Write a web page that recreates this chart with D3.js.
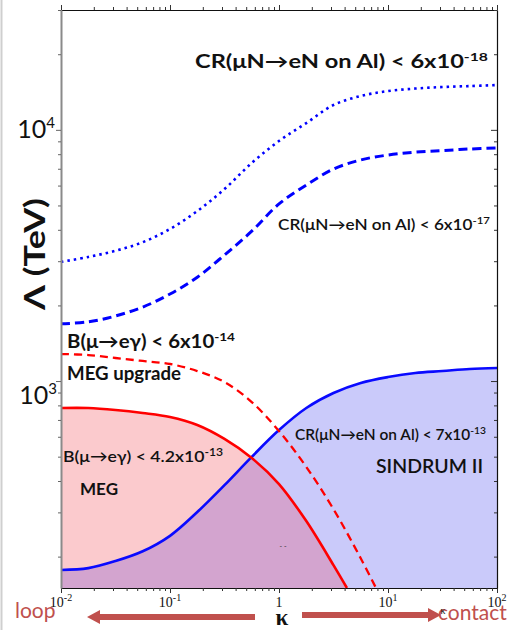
<!DOCTYPE html>
<html><head><meta charset="utf-8">
<script src="https://cdn.jsdelivr.net/npm/d3@7"></script>
<style>body{margin:0;background:#fff} svg{display:block}</style>
</head><body><svg id="c" width="512" height="630"></svg>
<script>
// ---- data ----
const kappa   = [0.01, 0.0178, 0.0316, 0.0562, 0.1, 0.178, 0.316, 0.562, 1, 1.78, 3.16, 5.62, 10, 17.8, 31.6, 56.2, 100];
const cr18    = [2980, 3120, 3300, 3570, 4030, 4750, 5810, 7380, 9030, 10640, 12560, 13640, 14270, 14600, 14810, 14940, 15080];
const cr17    = [1690, 1720, 1815, 1970, 2220, 2590, 3175, 3950, 5070, 6030, 6980, 7590, 7940, 8150, 8270, 8390, 8470];
const sindrum = [177, 180, 192, 210, 242, 301, 385, 499, 638, 781, 896, 982, 1037, 1076, 1096, 1117, 1127];
const kappaMEG   = [0.01, 0.0178, 0.0316, 0.0562, 0.1, 0.178, 0.316, 0.562, 1, 1.78, 3.16, 4.2];
const meg        = [781, 781, 767, 746, 719, 668, 588, 494, 389, 277, 185, 150];
const kappaMEGup = [0.01, 0.0178, 0.0316, 0.0562, 0.1, 0.178, 0.316, 0.562, 1, 1.78, 3.16, 5.62, 7.76];
const megUp      = [1281, 1269, 1235, 1202, 1169, 1096, 991, 825, 632, 455, 309, 197, 150];
const xTickLabels = [["10","-2"],["10","-1"],["1",""],["10","1"],["10","2"]];
const xTickVals = [0.01, 0.1, 1, 10, 100];
const yTickLabels = [["10","4"],["10","3"]];
const yTickVals = [10000, 1000];

// ---- setup ----
const svg = d3.select("#c");
const L = 61, R = 497, T = 10, B = 588;
const x = d3.scaleLog().domain([0.01, 100]).range([L, R]);
const y = d3.scaleLog().domain([150, 30000]).range([B, T]);
const RED = "#c0504d";

svg.append("line").attr("x1",1.5).attr("x2",1.5).attr("y1",0).attr("y2",630).attr("stroke","#cfcfcf").attr("stroke-width",2);

svg.append("clipPath").attr("id","plot").append("rect").attr("x",L).attr("y",T).attr("width",R-L).attr("height",B-T);
const zip = (ks, vs) => ks.map((k,i)=>[k, vs[i]]);
const curve = d3.curveCatmullRom.alpha(0.5);
const area = d3.area().x(d=>x(d[0])).y0(B).y1(d=>y(d[1])).curve(curve);
const line = d3.line().x(d=>x(d[0])).y(d=>y(d[1])).curve(curve);

const g = svg.append("g").attr("clip-path","url(#plot)");
const megData = zip(kappaMEG, meg);
const sinData = zip(kappa, sindrum);

svg.append("clipPath").attr("id","megclip").append("path").attr("d", area(megData));
g.append("path").attr("d", area(megData)).attr("fill","#fbcacd");
g.append("path").attr("d", area(sinData)).attr("fill","#cacafa");
g.append("g").attr("clip-path","url(#megclip)").append("path").attr("d", area(sinData)).attr("fill","#d3a4cf");

g.append("path").attr("d", line(zip(kappa, cr18))).attr("fill","none").attr("stroke","#0000ff").attr("stroke-width",2.6).attr("stroke-dasharray","2.5,4");
g.append("path").attr("d", line(zip(kappa, cr17))).attr("fill","none").attr("stroke","#0000ff").attr("stroke-width",3).attr("stroke-dasharray","9,5");
g.append("path").attr("d", line(sinData)).attr("fill","none").attr("stroke","#0a0aff").attr("stroke-width",2.6);
g.append("path").attr("d", line(megData)).attr("fill","none").attr("stroke","#ff0000").attr("stroke-width",2.6);
g.append("path").attr("d", line(zip(kappaMEGup, megUp))).attr("fill","none").attr("stroke","#ff0000").attr("stroke-width",2.3).attr("stroke-dasharray","8,5");

// ---- axes ----
const isMajor = d => Math.abs(Math.log10(d) - Math.round(Math.log10(d))) < 1e-6;
function styleAxis(sel, col, w, sizeMaj, sizeMin, attr){
  sel.select(".domain").attr("stroke", col).attr("stroke-width", w);
  sel.selectAll(".tick line").attr("stroke", "#333").attr(attr, d => isMajor(d) ? sizeMaj : sizeMin);
}
const bx = svg.append("g").attr("transform",`translate(0,${B})`)
  .call(d3.axisBottom(x).tickValues(x.ticks()).tickFormat("").tickSizeOuter(0));
styleAxis(bx, "#111", 1.2, 5, 3, "y2");
const tx = svg.append("g").attr("transform",`translate(0,${T})`)
  .call(d3.axisTop(x).tickValues(x.ticks()).tickFormat("").tickSizeOuter(0));
styleAxis(tx, "#111", 1.2, -5, -3, "y2");
const ry = svg.append("g").attr("transform",`translate(${R},0)`)
  .call(d3.axisRight(y).tickValues(y.ticks()).tickFormat("").tickSizeOuter(0));
styleAxis(ry, "#111", 1.2, -6, -3, "x2");
const ly = svg.append("g").attr("transform",`translate(${L},0)`)
  .call(d3.axisLeft(y).tickValues(y.ticks()).tickFormat("").tickSizeOuter(0));
styleAxis(ly, "#8a8a8a", 2, -5, -3, "x2");
ly.selectAll(".tick line").attr("stroke","#666");

// x tick labels
xTickVals.forEach((v,i)=>{
  const [base, sup] = xTickLabels[i];
  const t = svg.append("text").attr("x", x(v)).attr("y", 607).attr("text-anchor","middle")
    .attr("font-family","Liberation Serif").attr("font-size",14).attr("fill","#111");
  t.append("tspan").text(base);
  if (sup) t.append("tspan").attr("dy",-6).attr("font-size",10).text(sup);
});
// y tick labels
const yOff = [8, 23];
yTickVals.forEach((v,i)=>{
  const [base, sup] = yTickLabels[i];
  const t = svg.append("text").attr("x", L-6 + (i===1?2:0)).attr("y", y(v)+yOff[i]).attr("text-anchor","end")
    .attr("font-family","Lato").attr("font-size",25).attr("fill","#111");
  t.append("tspan").text(base);
  t.append("tspan").attr("dy",-10).attr("font-size",15).text(sup);
});

// y title
svg.append("text").attr("transform","translate(45,254) rotate(-90)").attr("text-anchor","middle")
  .attr("font-family","Lato").attr("font-weight","bold").attr("font-size",29).attr("fill","#111")
  .attr("textLength",112).attr("lengthAdjust","spacingAndGlyphs").text("Λ (TeV)");

// ---- annotations ----
function label(x0, yb, main, sup, size, weight, len, supSize, supDy){
  const t = svg.append("text").attr("x",x0).attr("y",yb).attr("font-family","Lato")
    .attr("font-size",size).attr("font-weight",weight).attr("fill","#111");
  t.append("tspan").text(main);
  if (sup) t.append("tspan").attr("dy",supDy).attr("font-size",supSize).text(sup);
  if (len) t.attr("textLength",len).attr("lengthAdjust","spacingAndGlyphs");
  return t;
}
label(195, 68, "CR(μN→eN on Al) < 6x10", "-18", 18, "bold", 293, 12, -7);
label(278, 230, "CR(μN→eN on Al) < 6x10", "-17", 15, "600", 212, 10, -6);
label(67, 348, "B(μ→eγ) < 6x10", "-14", 18, "bold", 168, 12, -7);
label(67, 380, "MEG upgrade", "", 18, "bold", 114);
label(63, 462, "B(μ→eγ) < 4.2x10", "-13", 16, "600", 160, 11, -6);
label(80, 495, "MEG", "", 17, "bold", 38);
label(295, 440, "CR(μN→eN on Al) < 7x10", "-13", 15, "600", 191, 10, -6);
label(376, 473, "SINDRUM II", "", 20, "600", 107);
svg.append("text").attr("x",283).attr("y",549).attr("font-size",7).attr("font-family","Lato").attr("text-anchor","middle").attr("fill","#333").text("- -");

// ---- bottom arrows ----
svg.append("path").attr("fill",RED)
  .attr("d",`M255,614 L100,614 L100,610 L87,617 L100,624 L100,620 L255,620 Z`);
svg.append("path").attr("fill",RED)
  .attr("d",`M302,612 L428,612 L428,608 L441,615 L428,622 L428,618 L302,618 Z`);
svg.append("text").attr("x",15).attr("y",618).attr("font-family","Lato").attr("font-size",21).attr("fill",RED).text("loop");
svg.append("text").attr("x",438).attr("y",620).attr("font-family","Lato").attr("font-size",21).attr("fill",RED).text("contact");
svg.append("text").attr("x",282).attr("y",625).attr("text-anchor","middle").attr("font-family","Liberation Serif")
  .attr("font-weight","bold").attr("font-size",23).attr("fill","#111").text("κ");
svg.append("text").attr("x",443).attr("y",614).attr("text-anchor","middle").attr("font-family","Liberation Serif")
  .attr("font-size",10).attr("fill","#111").text("κ");
</script></body></html>
